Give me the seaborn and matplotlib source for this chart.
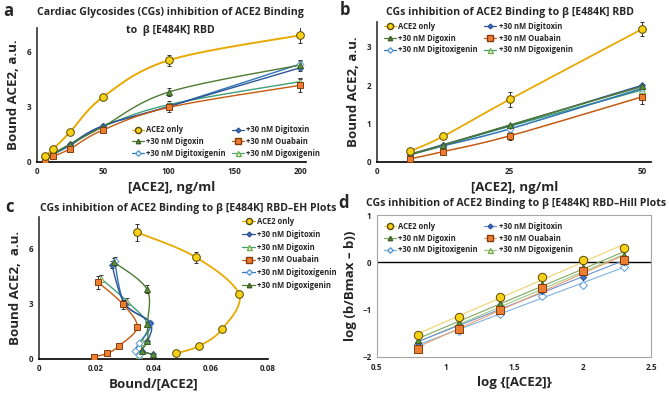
"""
Binding of ACE2 to beta [E484K] RBD with cardiac glycosides:
saturation curves, EH plot and Hill plot.
"""
import matplotlib.pyplot as plt
import numpy as np
import seaborn as sns
from matplotlib.lines import Line2D

# ---- data ----
conc = [6.25, 12.5, 25, 50, 100, 200]          # [ACE2], ng/ml (panel a, c)
conc_low = [6.25, 12.5, 25, 50]                # panel b
log_conc = [0.80, 1.10, 1.40, 1.70, 2.00, 2.30]  # panel d

labels = ["ACE2 only", "+30 nM Digitoxin", "+30 nM Digoxin",
          "+30 nM Ouabain", "+30 nM Digitoxigenin", "+30 nM Digoxigenin"]

# panel a: bound ACE2, a.u.
bound_ace2 = [0.30, 0.70, 1.60, 3.50, 5.50, 6.86]
bound_digitoxin = [0.25, 0.45, 0.95, 1.95, 3.00, 5.10]
bound_digoxin = [0.25, 0.45, 0.95, 1.90, 3.78, 5.25]
bound_ouabain = [0.12, 0.30, 0.70, 1.72, 2.95, 4.15]
bound_digitoxigenin = [0.22, 0.42, 0.88, 1.95, 3.00, 5.30]
bound_digoxigenin = [0.22, 0.45, 0.90, 1.90, 3.10, 4.35]
err_ace2 = [0.05, 0.05, 0.12, 0.10, 0.30, 0.45]
err_ouabain = [0.05, 0.05, 0.05, 0.08, 0.25, 0.35]
err_other = [0.03, 0.03, 0.05, 0.08, 0.20, 0.20]

# panel b: bound ACE2 at low concentrations
low_ace2 = [0.28, 0.67, 1.63, 3.47]
low_digitoxin = [0.20, 0.45, 0.95, 2.00]
low_digoxin = [0.20, 0.44, 0.96, 1.97]
low_ouabain = [0.08, 0.27, 0.68, 1.70]
low_digitoxigenin = [0.19, 0.42, 0.86, 1.92]
low_digoxigenin = [0.19, 0.43, 0.93, 1.88]
low_err_ace2 = [0.03, 0.03, 0.20, 0.18]
low_err_ouabain = [0.02, 0.03, 0.10, 0.18]

# panel d: log(b/(Bmax - b))
hill_ace2 = [-1.53, -1.16, -0.73, -0.30, 0.05, 0.30]
hill_digitoxin = [-1.70, -1.35, -0.95, -0.60, -0.30, 0.00]
hill_digoxin = [-1.65, -1.25, -0.85, -0.45, -0.10, 0.15]
hill_ouabain = [-1.83, -1.40, -1.00, -0.55, -0.18, 0.06]
hill_digitoxigenin = [-1.72, -1.45, -1.10, -0.71, -0.47, -0.09]
hill_digoxigenin = [-1.75, -1.30, -0.88, -0.50, -0.20, 0.10]

# line colour, marker, face, edge, marker size
STYLES = [
    ("#E8A900", "o", "#F7D117", "#5A4A00", 5.5),
    ("#2F5597", "D", "#4472C4", "#2F5597", 3.0),
    ("#4E7A32", "^", "#5E8F3E", "#3B5E24", 4.0),
    ("#C55A11", "s", "#ED7D31", "#843C0C", 5.0),
    ("#2E75B6", "D", "white", "#5B9BD5", 3.5),
    ("#3FA07A", "^", "white", "#70AD47", 4.5),
]
HILL_COLORS = ["#F2D46B", "#6F8FD0", "#7FA860", "#E9A071", "#7FB2E0", "#9DCC86"]

BOLD = dict(fontweight="bold")


def smooth(x, y, n=24):
    """Catmull-Rom path through the points, like Excel smoothed lines."""
    p = np.column_stack([x, y]).astype(float)
    p = np.vstack([p[0], p, p[-1]])
    out = []
    t = np.linspace(0, 1, n, endpoint=False)[:, None]
    for i in range(1, len(p) - 2):
        p0, p1, p2, p3 = p[i - 1], p[i], p[i + 1], p[i + 2]
        seg = 0.5 * ((2 * p1) + (-p0 + p2) * t
                     + (2 * p0 - 5 * p1 + 4 * p2 - p3) * t ** 2
                     + (-p0 + 3 * p1 - 3 * p2 + p3) * t ** 3)
        out.append(seg)
    out.append(p[-2][None, :])
    out = np.vstack(out)
    return out[:, 0], out[:, 1]


def draw_series(ax, x, y, style, yerr=None, lw=1.1):
    color, marker, face, edge, ms = style
    sx, sy = smooth(x, y)
    sns.lineplot(x=sx, y=sy, sort=False, estimator=None, color=color,
                 linewidth=lw, ax=ax)
    ax.errorbar(x, y, yerr=yerr, fmt=marker, ms=ms, mfc=face, mec=edge,
                mew=0.7, ecolor="#333333", elinewidth=0.7, capsize=1.3,
                zorder=5)


def handle(style, label, color=None):
    lc, marker, face, edge, ms = style
    return Line2D([], [], color=color or lc, marker=marker, mfc=face, mec=edge,
                  ms=ms * 0.8, lw=0.9, label=label)


def style_axes(ax, box=False):
    for side in ["top", "right"]:
        ax.spines[side].set_visible(box)
    for sp in ax.spines.values():
        sp.set_color("#A6A6A6" if box else "black")
        sp.set_linewidth(0.8 if box else 1.2)
    if not box:
        ax.spines["left"].set_color("#333333")
    ax.tick_params(length=0, labelsize=5.8, pad=4)
    for lab in ax.get_xticklabels() + ax.get_yticklabels():
        lab.set_fontweight("bold")


LEG_PROP = dict(size=5.5, weight="bold")
LABEL_SIZE = 9.5


def two_col_legend(ax, handles, loc, anchor):
    order = [0, 2, 4, 1, 3, 5]
    ax.legend(handles=[handles[i] for i in order], ncol=2, loc=loc,
              bbox_to_anchor=anchor, frameon=False, prop=LEG_PROP,
              handlelength=1.6, columnspacing=0.8, labelspacing=0.35,
              handletextpad=0.3)


sns.set_theme(style="white")
plt.rcParams["font.family"] = ["Open Sans", "DejaVu Sans"]

fig = plt.figure(figsize=(6.69, 3.94), dpi=100)
ax_a = fig.add_axes([0.055, 0.589, 0.402, 0.340])
ax_b = fig.add_axes([0.5635, 0.589, 0.410, 0.355])
ax_c = fig.add_axes([0.058, 0.089, 0.342, 0.360])
ax_d = fig.add_axes([0.5635, 0.094, 0.410, 0.360])

bound = [bound_ace2, bound_digitoxin, bound_digoxin, bound_ouabain,
         bound_digitoxigenin, bound_digoxigenin]
errs = [err_ace2, err_other, err_other, err_ouabain, err_other, err_other]
low = [low_ace2, low_digitoxin, low_digoxin, low_ouabain,
       low_digitoxigenin, low_digoxigenin]
low_errs = [low_err_ace2, None, None, low_err_ouabain, None, None]
hill = [hill_ace2, hill_digitoxin, hill_digoxin, hill_ouabain,
        hill_digitoxigenin, hill_digoxigenin]

# ---- a ----
for i in [5, 4, 1, 2, 3, 0]:
    draw_series(ax_a, conc, bound[i], STYLES[i], errs[i],
                lw=1.4 if i == 0 else 1.0)
ax_a.set_xlim(0, 204)
ax_a.set_ylim(0, 7.25)
ax_a.set_xticks([0, 50, 100, 150, 200])
ax_a.set_yticks([0, 3, 6])
ax_a.set_xlabel("[ACE2], ng/ml", fontsize=LABEL_SIZE, labelpad=3, **BOLD)
ax_a.set_ylabel("Bound ACE2, a.u.", fontsize=LABEL_SIZE, labelpad=5, **BOLD)
style_axes(ax_a)
two_col_legend(ax_a, [handle(STYLES[i], labels[i]) for i in range(6)],
               "lower right", (1.08, -0.02))

# ---- b ----
for i in [5, 4, 1, 2, 3, 0]:
    draw_series(ax_b, conc_low, low[i], STYLES[i], low_errs[i],
                lw=1.3 if i == 0 else 1.1)
ax_b.set_xlim(0, 51.7)
ax_b.set_ylim(0, 3.65)
ax_b.set_xticks([0, 25, 50])
ax_b.set_yticks([0, 1, 2, 3])
ax_b.set_xlabel("[ACE2], ng/ml", fontsize=LABEL_SIZE, labelpad=3, **BOLD)
ax_b.set_ylabel("Bound ACE2, a.u.", fontsize=LABEL_SIZE, labelpad=5, **BOLD)
style_axes(ax_b)
two_col_legend(ax_b, [handle(STYLES[i], labels[i]) for i in range(6)],
               "upper left", (0.0, 1.05))

# ---- c (EH plot: bound vs bound/[ACE2]) ----
c_labels = [labels[0], labels[1], labels[5], labels[3], labels[4], labels[2]]
for i in [5, 4, 1, 2, 3, 0]:
    ratio = [b / x for b, x in zip(bound[i], conc)]
    draw_series(ax_c, ratio, bound[i], STYLES[i], errs[i],
                lw=1.3 if i == 0 else 1.0)
ax_c.set_xlim(0, 0.08)
ax_c.set_ylim(0, 7.68)
ax_c.set_xticks([0, 0.02, 0.04, 0.06, 0.08])
ax_c.set_xticklabels(["0", "0.02", "0.04", "0.06", "0.08"])
ax_c.set_yticks([0, 3, 6])
ax_c.set_xlabel("Bound/[ACE2]", fontsize=LABEL_SIZE, labelpad=3, **BOLD)
ax_c.set_ylabel("Bound ACE2,  a.u.", fontsize=LABEL_SIZE, labelpad=5, **BOLD)
style_axes(ax_c)
c_order = [0, 1, 5, 3, 4, 2]
ax_c.legend(handles=[handle(STYLES[i], c_labels[i]) for i in c_order],
            loc="upper left", bbox_to_anchor=(0.86, 1.05), frameon=False,
            prop=LEG_PROP, handlelength=1.6,
            labelspacing=0.5, handletextpad=0.3)

# ---- d (Hill plot) ----
for i in [5, 4, 1, 2, 3, 0]:
    color, marker, face, edge, ms = STYLES[i]
    sns.regplot(x=log_conc, y=hill[i], ci=None, scatter=False, ax=ax_d,
                color=HILL_COLORS[i], line_kws=dict(linewidth=0.8))
    ax_d.plot(log_conc, hill[i], linestyle="none", marker=marker,
              ms=ms * 1.1, mfc=face, mec=edge, mew=0.7, zorder=5)
ax_d.axhline(0, color="black", linewidth=1.0, zorder=1)
ax_d.set_xlim(0.5, 2.5)
ax_d.set_ylim(-2, 1)
ax_d.set_xticks([0.5, 1, 1.5, 2, 2.5])
ax_d.set_xticklabels(["0.5", "1", "1.5", "2", "2.5"])
ax_d.set_yticks([-2, -1, 0, 1])
ax_d.set_xlabel("log {[ACE2]}", fontsize=LABEL_SIZE, labelpad=3, **BOLD)
ax_d.set_ylabel("log (b/Bmax \u2013 b))", fontsize=LABEL_SIZE, labelpad=4,
                **BOLD)
style_axes(ax_d, box=True)
two_col_legend(ax_d, [handle(STYLES[i], labels[i], HILL_COLORS[i])
                      for i in range(6)], "upper left", (0.0, 1.0))

# ---- titles and panel letters ----
W, H = 669, 394


def ftext(x, y, s, size, ha="center"):
    fig.text(x / W, 1 - y / H, s, fontsize=size, ha=ha, va="center", **BOLD)


TITLE = 7.6
ftext(170, 13, "Cardiac Glycosides (CGs) inhibition of ACE2 Binding", TITLE)
ftext(170, 30, "to  \u03b2 [E484K] RBD", TITLE)
ftext(510, 12, "CGs inhibition of ACE2 Binding to \u03b2 [E484K] RBD", TITLE)
ftext(188, 208, "CGs inhibition of ACE2 Binding to \u03b2 [E484K] RBD\u2013EH Plots", TITLE)
ftext(516, 203, "CGs inhibition of ACE2 Binding to \u03b2 [E484K] RBD\u2013Hill Plots", TITLE)
ftext(3, 11, "a", 12, ha="left")
ftext(340, 10, "b", 12, ha="left")
ftext(5, 207, "c", 12, ha="left")
ftext(338, 203, "d", 12, ha="left")

fig.savefig("out.png", dpi=100)
